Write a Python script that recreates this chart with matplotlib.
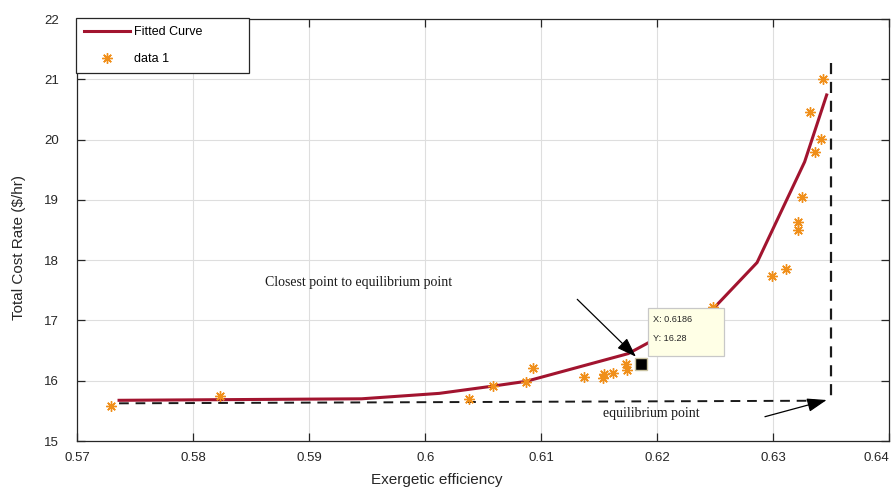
import matplotlib
matplotlib.use("Agg")
import matplotlib.pyplot as plt
from matplotlib.patches import Rectangle
from matplotlib.lines import Line2D

# ---------------- data ----------------
data_x = [0.5729, 0.5823, 0.6038, 0.6058, 0.6087, 0.6093, 0.6137, 0.6153, 0.6154,
          0.6162, 0.6173, 0.6174, 0.6248, 0.6299, 0.6311, 0.6321, 0.6321, 0.6325,
          0.6336, 0.6341, 0.6332, 0.6343]
data_y = [15.58, 15.75, 15.70, 15.91, 15.98, 16.21, 16.06, 16.04, 16.11,
          16.13, 16.28, 16.17, 17.23, 17.74, 17.86, 18.64, 18.50, 19.05,
          19.79, 20.01, 20.45, 21.00]

fit_x = [0.5736, 0.5945, 0.6012, 0.6058, 0.6087, 0.6175, 0.6250, 0.6286, 0.6327, 0.6346]
fit_y = [15.675, 15.70, 15.79, 15.91, 15.99, 16.45, 17.23, 17.96, 19.63, 20.74]

closest_x = 0.6186
closest_y = 16.28

equil_line_x = [0.5736, 0.6336]
equil_line_y = [15.625, 15.668]
vert_line_x = [0.63495, 0.63495]
vert_line_y = [21.27, 15.73]

x_ticks = [0.57, 0.58, 0.59, 0.60, 0.61, 0.62, 0.63, 0.64]
x_ticklabels = ["0.57", "0.58", "0.59", "0.6", "0.61", "0.62", "0.63", "0.64"]
y_ticks = [15, 16, 17, 18, 19, 20, 21, 22]

# ---------------- style ----------------
SANS = ["Liberation Sans", "DejaVu Sans"]
SERIF = ["Liberation Serif", "DejaVu Serif"]
plt.rcParams["font.family"] = SANS

curve_color = "#A2142F"
star_color = (0.94, 0.56, 0.10)
axis_color = "#262626"

fig = plt.figure(figsize=(8.93, 4.94), dpi=100)
ax = fig.add_axes([77.3 / 893, 1 - 441 / 494, (889.3 - 77.3) / 893, (441 - 19) / 494])

ax.set_xlim(0.57, 0.64)
ax.set_ylim(15, 22)
ax.set_xticks(x_ticks)
ax.set_xticklabels(x_ticklabels)
ax.set_yticks(y_ticks)
ax.grid(True, color="#DEDEDE", linewidth=0.8)
ax.set_axisbelow(True)
for s in ax.spines.values():
    s.set_color(axis_color)
    s.set_linewidth(0.9)
ax.tick_params(direction="in", length=5.8, width=0.9, color=axis_color,
               top=True, right=True, labelsize=9.5, labelcolor=axis_color)
ax.tick_params(axis="x", pad=8)
ax.tick_params(axis="y", pad=13)
ax.get_xticklabels()[-1].set_horizontalalignment("right")

# fitted curve and data
ax.plot(fit_x, fit_y, color=curve_color, linewidth=2.2, zorder=3)
ax.plot(data_x, data_y, linestyle="none", marker=(8, 2, 0), markersize=7.5,
        markeredgewidth=1.0, color=star_color, zorder=4)

# dashed lines
ax.plot(equil_line_x, equil_line_y, color="#1a1a1a", linestyle=(0, (5, 3.5)),
        linewidth=1.4, zorder=3)
ax.plot(vert_line_x, vert_line_y, color="#1a1a1a", linestyle=(0, (5, 3.5)),
        linewidth=1.6, zorder=3)

# arrows
arrow_style = "-|>,head_length=1.2,head_width=0.42"
ax.annotate("", xy=(0.61816, 16.398), xytext=(0.6131, 17.35),
            arrowprops=dict(arrowstyle=arrow_style, color="black", linewidth=0.9,
                            shrinkA=0, shrinkB=0), zorder=5)
ax.annotate("", xy=(0.6346, 15.68), xytext=(0.62928, 15.403),
            arrowprops=dict(arrowstyle=arrow_style, color="black", linewidth=0.9,
                            shrinkA=0, shrinkB=0), zorder=5)

ax.text(0.58618, 17.575, "Closest point to equilibrium point", family=SERIF,
        fontsize=10, va="baseline", ha="left", color="#1a1a1a")
ax.text(0.61534, 15.403, "equilibrium point", family=SERIF,
        fontsize=10, va="baseline", ha="left", color="#1a1a1a")

# datatip
ax.plot([closest_x], [closest_y], linestyle="none", marker="s", markersize=8.5,
        markerfacecolor="black", markeredgecolor="#C9C2A0", markeredgewidth=1.0,
        zorder=6)
ax.add_patch(Rectangle((0.61922, 16.41), 0.62578 - 0.61922, 17.20 - 16.41,
                       facecolor="#FFFFE6", edgecolor="#C8C8C8", linewidth=0.9,
                       zorder=7))
ax.text(0.61966, 16.978, f"X: {closest_x:.4f}", fontsize=6.6, va="baseline",
        ha="left", color="#262626", zorder=8)
ax.text(0.61966, 16.663, f"Y: {closest_y:.2f}", fontsize=6.6, va="baseline",
        ha="left", color="#262626", zorder=8)

# labels
ax.set_xlabel("Exergetic efficiency", fontsize=11, color=axis_color)
ax.set_ylabel("Total Cost Rate (\\$/hr)", fontsize=11, color=axis_color)
ax.xaxis.set_label_coords((437 - 77.3) / 812, (441 - 473) / 422)
ax.yaxis.set_label_coords((26 - 77.3) / 812, (441 - 247) / 422)

# legend
handles = [Line2D([], [], color=curve_color, linewidth=2.2),
           Line2D([], [], linestyle="none", marker=(8, 2, 0), markersize=7.5,
                  markeredgewidth=1.0, color=star_color)]
leg = ax.legend(handles, ["Fitted Curve", "data 1"], loc="upper left",
                bbox_to_anchor=(76 / 893, 1 - 74 / 494, 173 / 893, 56 / 494),
                bbox_transform=fig.transFigure, mode="expand", fontsize=9,
                frameon=True, fancybox=False, framealpha=1, edgecolor=axis_color,
                handlelength=3.7, handletextpad=0.3, labelspacing=1.2,
                borderpad=0.65, borderaxespad=0, numpoints=1)
leg.get_frame().set_linewidth(0.9)
leg.set_zorder(10)

fig.savefig("out.png", dpi=100)
